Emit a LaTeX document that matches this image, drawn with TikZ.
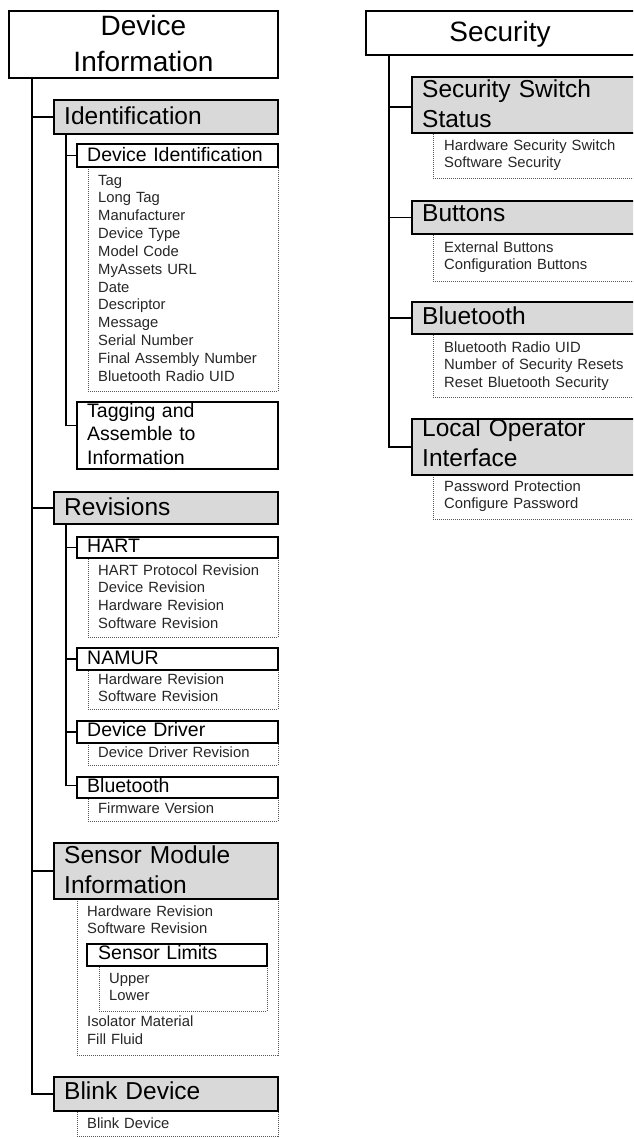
\documentclass[tikz,border=0pt]{standalone}
\usepackage{fontspec}
\setmainfont{Liberation Sans}
\definecolor{boxgray}{HTML}{D9D9D9}
\definecolor{itemcol}{HTML}{262626}
\definecolor{dotline}{HTML}{555555}
\tikzset{
  box/.style={draw=black, line width=1.6pt, anchor=north west, inner sep=0pt, outer sep=0pt},
  titlebox/.style={box, fill=white},
  headbox/.style={box, fill=boxgray},
  subbox/.style={box, fill=white},
  listbox/.style={draw=dotline, line width=0.9pt, dash pattern=on 1pt off 1pt, anchor=north west, inner sep=0pt, outer sep=0pt},
  conn/.style={line width=1.6pt},
  titletext/.style={font=\fontsize{28}{36}\selectfont, align=center, inner sep=0pt},
  headtext/.style={font=\fontsize{24.5}{30}\selectfont, text width=220pt, align=left, inner sep=0pt, anchor=base west},
  subtext/.style={font=\fontsize{19.5}{23.5}\selectfont, text width=190pt, align=left, inner sep=0pt, anchor=base west},
  itemtext/.style={font=\fontsize{14.8}{17.85}\selectfont, text=itemcol, text width=190pt, align=left, inner sep=0pt, anchor=base west},
}
\begin{document}
\begin{tikzpicture}[x=1pt, y=-1pt]
\useasboundingbox (0,0) rectangle (633,1138);
\clip (0,0) rectangle (633,1138);
\fill[white] (0,0) rectangle (633,1138);

% ---------- left column: dotted lists ----------
\node[listbox, minimum width=190, minimum height=224] (devidL) at (88,167) {};
\node[listbox, minimum width=190, minimum height=79] (hartL) at (88,558) {};
\node[listbox, minimum width=190, minimum height=39] (namurL) at (88,670) {};
\node[listbox, minimum width=190, minimum height=22] (driverL) at (88,743) {};
\node[listbox, minimum width=190, minimum height=23] (btL) at (88,798) {};
\node[listbox, minimum width=201, minimum height=156] (sensorL) at (77,899) {};
\node[listbox, minimum width=168, minimum height=45] (limitsL) at (99,966) {};
\node[listbox, minimum width=201, minimum height=25] (blinkL) at (77,1111) {};

% ---------- left column: boxes ----------
\node[titlebox, minimum width=269, minimum height=67] (devinfo) at (9,11) {};
\node[headbox, minimum width=224, minimum height=34] (ident) at (54,100) {};
\node[subbox, minimum width=201, minimum height=23] (devid) at (77,144) {};
\node[subbox, minimum width=201, minimum height=67] (tagging) at (77,402) {};
\node[headbox, minimum width=224, minimum height=32] (revisions) at (54,492) {};
\node[subbox, minimum width=201, minimum height=21] (hart) at (77,537) {};
\node[subbox, minimum width=201, minimum height=22] (namur) at (77,648) {};
\node[subbox, minimum width=201, minimum height=22] (driver) at (77,721) {};
\node[subbox, minimum width=201, minimum height=21] (bt) at (77,777) {};
\node[headbox, minimum width=224, minimum height=56] (sensor) at (54,843) {};
\node[subbox, minimum width=180, minimum height=22] (limits) at (87,944) {};
\node[headbox, minimum width=224, minimum height=34] (blink) at (54,1077) {};

% ---------- left column: texts ----------
\node[titletext] (devinfoT) at (143.5,43) {Device\\Information};
\node[headtext] (identT) at (64,124) {Identification};
\node[subtext] (devidT) at (87,161.7) {Device Identification};
\node[itemtext] (devidI) at (98,185) {Tag\\Long Tag\\Manufacturer\\Device Type\\Model Code\\MyAssets URL\\Date\\Descriptor\\Message\\Serial Number\\Final Assembly Number\\Bluetooth Radio UID};
\node[subtext] (taggingT) at (87,417) {Tagging and\\Assemble to\\Information};
\node[headtext] (revisionsT) at (64,515) {Revisions};
\node[subtext] (hartT) at (87,552.7) {HART};
\node[itemtext] (hartI) at (98,575) {HART Protocol Revision\\Device Revision\\Hardware Revision\\Software Revision};
\node[subtext] (namurT) at (87,664.3) {NAMUR};
\node[itemtext] (namurI) at (98,684) {Hardware Revision\\Software Revision};
\node[subtext] (driverT) at (87,736.7) {Device Driver};
\node[itemtext] (driverI) at (98,757.3) {Device Driver Revision};
\node[subtext] (btT) at (87,792.3) {Bluetooth};
\node[itemtext] (btI) at (98,813.3) {Firmware Version};
\node[headtext] (sensorT) at (64,863.3) {Sensor Module\\Information};
\node[itemtext] (sensorI1) at (87,916) {Hardware Revision\\Software Revision};
\node[subtext] (limitsT) at (98,959.3) {Sensor Limits};
\node[itemtext] (limitsI) at (109,983) {Upper\\Lower};
\node[itemtext] (sensorI2) at (87,1026.7) {Isolator Material\\Fill Fluid};
\node[headtext] (blinkT) at (64,1099.3) {Blink Device};
\node[itemtext] (blinkI) at (87,1128) {Blink Device};

% ---------- left column: connectors ----------
\draw[conn] ([xshift=23pt]devinfo.south west) |- (ident.west);
\draw[conn] ([xshift=23pt]devinfo.south west) |- (revisions.west);
\draw[conn] ([xshift=23pt]devinfo.south west) |- (sensor.west);
\draw[conn] ([xshift=23pt]devinfo.south west) |- (blink.west);
\draw[conn] ([xshift=12pt]ident.south west) |- (devid.west);
\draw[conn] ([xshift=12pt]ident.south west) |- ([yshift=10pt]tagging.west);
\draw[conn] ([xshift=12pt]revisions.south west) |- (hart.west);
\draw[conn] ([xshift=12pt]revisions.south west) |- (namur.west);
\draw[conn] ([xshift=12pt]revisions.south west) |- (driver.west);
\draw[conn] ([xshift=12pt]revisions.south west) |- ([yshift=2pt]bt.west);

% ---------- right column ----------
\node[listbox, minimum width=207, minimum height=45] (secswL) at (433,133) {};
\node[listbox, minimum width=207, minimum height=47] (buttonsL) at (433,234) {};
\node[listbox, minimum width=207, minimum height=63] (sbtL) at (433,334) {};
\node[listbox, minimum width=207, minimum height=44] (loiL) at (433,475) {};

\node[titlebox, minimum width=274, minimum height=44] (security) at (366,11) {};
\node[headbox, minimum width=228, minimum height=56] (secsw) at (412,77) {};
\node[headbox, minimum width=228, minimum height=33] (buttons) at (412,201) {};
\node[headbox, minimum width=228, minimum height=32] (sbt) at (412,302) {};
\node[headbox, minimum width=228, minimum height=56] (loi) at (412,419) {};

\node[titletext, anchor=base] (securityT) at (500,41.7) {Security};
\node[headtext] (secswT) at (422,97) {Security Switch\\Status};
\node[itemtext] (secswI) at (444,150) {Hardware Security Switch\\Software Security};
\node[headtext] (buttonsT) at (422,221.7) {Buttons};
\node[itemtext] (buttonsI) at (444,252) {External Buttons\\Configuration Buttons};
\node[headtext] (sbtT) at (422,324.3) {Bluetooth};
\node[itemtext] (sbtI) at (444,352) {Bluetooth Radio UID\\Number of Security Resets\\Reset Bluetooth Security};
\node[headtext] (loiT) at (422,436.7) {Local Operator\\Interface};
\node[itemtext] (loiI) at (444,491) {Password Protection\\Configure Password};

\draw[conn] ([xshift=23pt]security.south west) |- ([yshift=-2pt]secsw.west);
\draw[conn] ([xshift=23pt]security.south west) |- (buttons.west);
\draw[conn] ([xshift=23pt]security.south west) |- (sbt.west);
\draw[conn] ([xshift=23pt]security.south west) |- (loi.west);
\end{tikzpicture}
\end{document}
